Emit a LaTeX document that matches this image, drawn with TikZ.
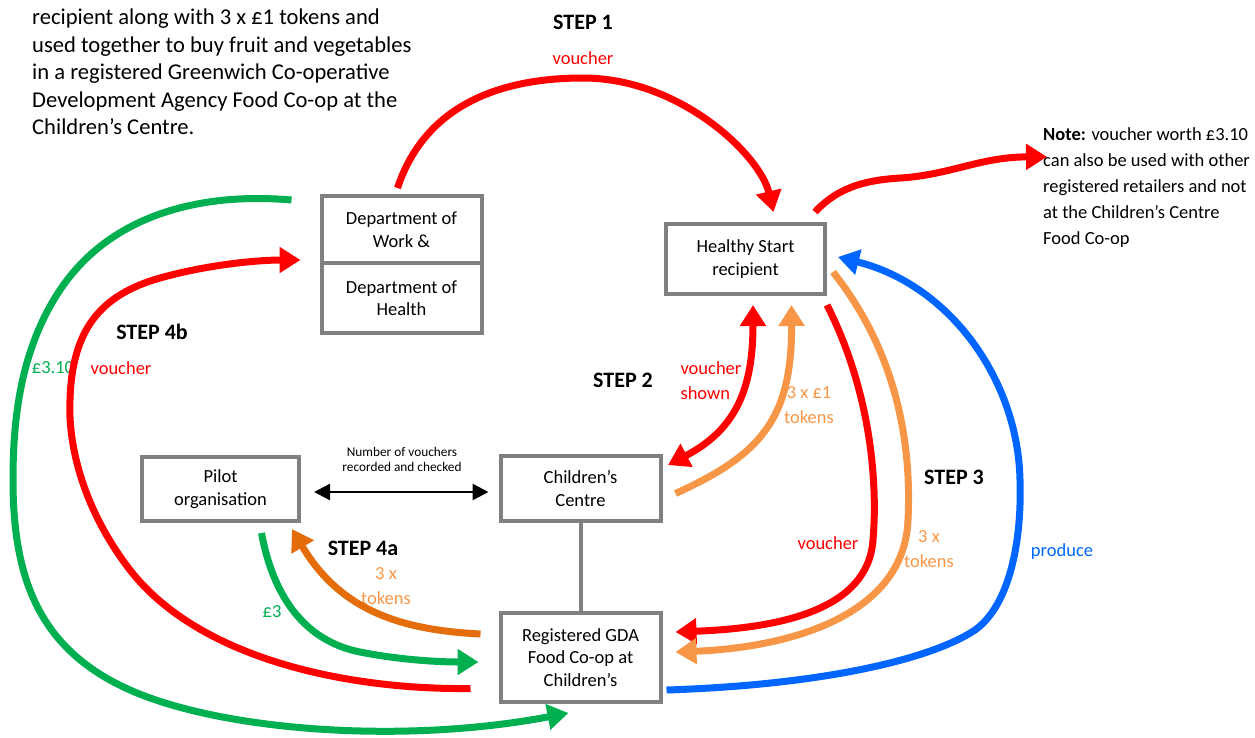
\documentclass[tikz,border=0pt]{standalone}
\usepackage{fontspec}
\setmainfont{Carlito}
\usetikzlibrary{arrows.meta,positioning}
\definecolor{vred}{HTML}{FF0000}
\definecolor{vgreen}{HTML}{00B050}
\definecolor{lorange}{HTML}{F79646}
\definecolor{dorange}{HTML}{E46C0A}
\definecolor{vblue}{HTML}{0066FF}
\definecolor{boxgray}{HTML}{808080}
\begin{document}
\begin{tikzpicture}
        [x=1pt, y=-1pt,
         box/.style={draw=boxgray, line width=4pt, outer sep=0pt, inner sep=0pt,
                     align=center, font=\fontsize{18.5}{22.5}\selectfont},
         flow/.style={line width=7pt, -{Triangle[length=21pt,width=25pt]}},
         lbl/.style={align=center, font=\fontsize{18.5}{25}\selectfont},
         steplbl/.style={font=\fontsize{22}{24}\selectfont\bfseries}]
        \useasboundingbox (0,0) rectangle (1255,737);
        % boxes
        \node[box, minimum width=160pt, minimum height=67pt] (dwp) at (401.5,229.5)
            {Department of\\Work \&};
        \node[box, minimum width=160pt, minimum height=70pt, below=0pt of dwp] (doh)
            {Department of\\Health};
        \node[box, minimum width=159pt, minimum height=70pt] (hs) at (745.5,259)
            {Healthy Start\\recipient};
        \node[box, minimum width=157pt, minimum height=64pt] (pilot) at (220.5,489)
            {Pilot\\organisation};
        \node[box, minimum width=160pt, minimum height=65pt] (cc) at (580.5,488.5)
            {Children’s\\Centre};
        \node[box, minimum width=160pt, minimum height=89pt] (gda) at (580.5,657.5)
            {Registered GDA\\Food Co-op at\\Children’s};
        \draw[boxgray, line width=4pt] (cc.south) -- (gda.north);
        % texts
        \node[anchor=north west, align=left, inner sep=0pt,
              font=\fontsize{22.6}{27.6}\selectfont] (intro) at (32,8.7)
            {recipient along with 3 x £1 tokens and\\
             used together to buy fruit and vegetables\\
             in a registered Greenwich Co-operative\\
             Development Agency Food Co-op at the\\
             Children’s Centre.};
        \node[anchor=north west, align=left, inner sep=0pt,
              font=\fontsize{18.5}{26}\selectfont] (note) at (1043,127.8)
            {\textbf{Note:} voucher worth £3.10\\
             can also be used with other\\
             registered retailers and not\\
             at the Children’s Centre\\
             Food Co-op};
        \node[steplbl] (s1) at (583,22) {STEP 1};
        \node[steplbl] (s2) at (623,380) {STEP 2};
        \node[steplbl] (s3) at (954,477) {STEP 3};
        \node[steplbl] (s4a) at (363,548) {STEP 4a};
        \node[steplbl] (s4b) at (152,332) {STEP 4b};
        \node[lbl, vred] (l1) at (583,58) {voucher};
        \node[lbl, vred, align=left, anchor=west] (l2) at (677,381) {voucher\\shown};
        \node[lbl, lorange] (l3) at (809,405) {3 x £1\\tokens};
        \node[lbl, vred] (l4) at (828,543) {voucher};
        \node[lbl, lorange] (l5) at (929,549.5) {3 x\\tokens};
        \node[lbl, vblue] (l6) at (1062,552) {produce};
        \node[lbl, lorange] (l7) at (386,586.5) {3 x\\tokens};
        \node[lbl, vgreen] (l8) at (272,612) {£3};
        \node[lbl, vgreen] (l9) at (53,368) {£3.10};
        \node[lbl, vred] (l10) at (121,368) {voucher};
        \node[align=center, font=\fontsize{13.3}{15}\selectfont] (l11) at (402,459.5)
            {Number of vouchers\\recorded and checked};
        % step 1
        \draw[flow, vred]
            ([shift={(-4,-8)}]dwp.north) .. controls (425,105) and (500,78) .. (583,78)
            .. controls (680,78) and (760,155) .. ([shift={(28,-12)}]hs.north);
        \draw[flow, vred]
            ([shift={(-10,-12)}]hs.north east) .. controls (840,185) and (870,180) .. (900,178)
            .. controls (950,175) and (980,157) .. ([shift={(4,29)}]note.north west);
        % step 2
        \draw[line width=7pt, vred,
              {Triangle[length=21pt,width=25pt]}-{Triangle[length=21pt,width=25pt]}]
            ([shift={(7.5,11)}]hs.south) .. controls (753,390) and (735,430)
            .. ([shift={(7.5,9)}]cc.north east);
        \draw[flow, lorange]
            ([shift={(15,5)}]cc.east) .. controls (760,455) and (792,420)
            .. ([shift={(46,11)}]hs.south);
        % step 3
        \draw[flow, vred]
            ([shift={(2,11)}]hs.south east) .. controls (870,390) and (878,480) .. (873,540)
            .. controls (868,610) and (780,628) .. ([shift={(15,19)}]gda.north east);
        \draw[flow, lorange]
            ([shift={(8,13)}]hs.east) .. controls (895,350) and (912,440) .. (908,520)
            .. controls (904,620) and (780,648) .. ([shift={(15,-5.5)}]gda.east);
        \draw[flow, vblue]
            ([shift={(6,-12)}]gda.south east) .. controls (820,685) and (930,660) .. (975,630)
            .. controls (1010,605) and (1022,540) .. (1020,480)
            .. controls (1018,380) and (950,285) .. ([shift={(13,-2)}]hs.east);
        % step 4a
        \draw[line width=2.5pt, {Triangle[length=16pt,width=16pt]}-{Triangle[length=16pt,width=16pt]}]
            ([shift={(15,3)}]pilot.east) -- ([shift={(-12,3.5)}]cc.west);
        \draw[flow, dorange]
            ([shift={(-20,-23.5)}]gda.west) .. controls (400,630) and (340,610)
            .. ([shift={(-7,8)}]pilot.south east);
        \draw[flow, vgreen]
            ([shift={(41,12)}]pilot.south) .. controls (272,590) and (300,640) .. (360,652)
            .. controls (400,660) and (440,662) .. ([shift={(-22,4.5)}]gda.west);
        % step 4b
        \draw[flow, vred]
            ([shift={(-30,31)}]gda.west) .. controls (350,690) and (200,660) .. (130,570)
            .. controls (80,505) and (68,440) .. (70,400)
            .. controls (72,330) and (100,295) .. (160,278)
            .. controls (210,264) and (260,260) .. ([shift={(-21,-3)}]dwp.south west);
        \draw[flow, vgreen]
            ([shift={(-30,4)}]dwp.north west) .. controls (200,192) and (110,215) .. (60,290)
            .. controls (20,350) and (13,420) .. (13,480)
            .. controls (13,580) and (40,650) .. (130,690)
            .. controls (220,730) and (400,745) .. ([shift={(-12,11)}]gda.south);
\end{tikzpicture}
\end{document}
